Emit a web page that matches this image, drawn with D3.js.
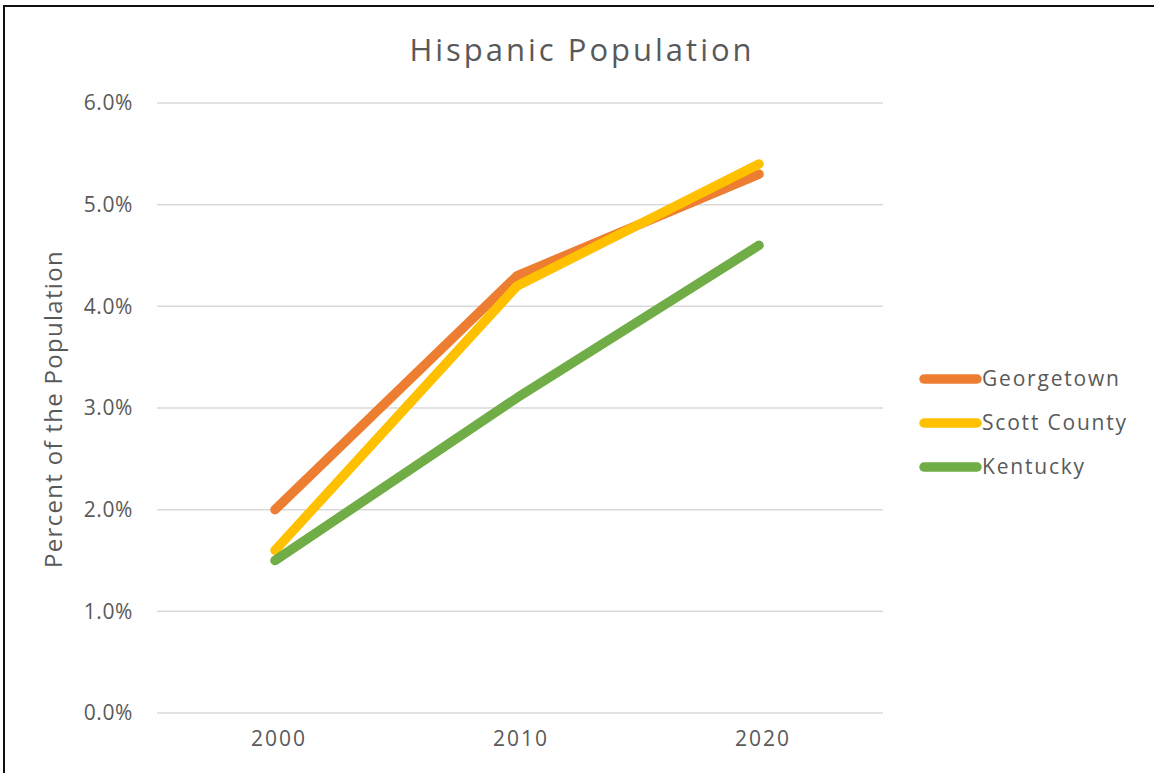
<!DOCTYPE html>
<html><head><meta charset="utf-8">
<script src="https://cdn.jsdelivr.net/npm/d3@7"></script>
<style>body{margin:0;background:#fff}svg{display:block}</style>
</head><body>
<svg id="c" width="1154" height="773"></svg>
<script>
const categories = ["2000", "2010", "2020"];
const seriesNames = ["Georgetown", "Scott County", "Kentucky"];
const georgetown = [0.020, 0.043, 0.053];
const scottCounty = [0.016, 0.042, 0.054];
const kentucky = [0.015, 0.031, 0.046];
const yTicks = [0, 0.01, 0.02, 0.03, 0.04, 0.05, 0.06];
const colors = ["#ED7D31", "#FFC000", "#70AD47"];
const seriesValues = [georgetown, scottCounty, kentucky];

const svg = d3.select("#c");
const font = "'Open Sans', sans-serif";
const textColor = "#595959";

svg.append("path").attr("d","M4,773 L4,6 L1154,6").attr("fill","none").attr("stroke","#111").attr("stroke-width",2);

const x = d3.scaleBand().domain(categories).range([157, 883]);
const y = d3.scaleLinear().domain([0, 0.06]).range([713, 103]);

const g = svg.append("g");
g.selectAll("line.grid").data(yTicks).join("line")
  .attr("x1",157).attr("x2",883)
  .attr("y1",d=>y(d)).attr("y2",d=>y(d))
  .attr("stroke","#d9d9d9").attr("stroke-width",1.5);

const yAxis = svg.append("g").attr("transform","translate(157,0)")
  .call(d3.axisLeft(y).tickValues(yTicks).tickFormat(d3.format(".1%")).tickSize(0).tickPadding(24));
yAxis.select(".domain").remove();
yAxis.selectAll("text").attr("font-family",font).attr("font-size",21).attr("fill",textColor)
  .attr("letter-spacing",0.6);

const xAxis = svg.append("g").attr("transform","translate(0,713)")
  .call(d3.axisBottom(x).tickSize(0).tickPadding(18));
xAxis.select(".domain").remove();
xAxis.selectAll("text").attr("font-family",font).attr("font-size",21).attr("fill",textColor)
  .attr("letter-spacing",2).attr("dx",1);

const line = d3.line().x((d,i)=>x(categories[i]) + x.bandwidth()/2 - 3).y(d=>y(d));
seriesValues.forEach((vals,k)=>{
  svg.append("path").datum(vals).attr("d",line)
    .attr("fill","none").attr("stroke",colors[k]).attr("stroke-width",9.5)
    .attr("stroke-linecap","round").attr("stroke-linejoin","round");
});

svg.append("text").attr("x",582).attr("y",61).attr("text-anchor","middle")
  .attr("font-family",font).attr("font-size",31).attr("letter-spacing",3).attr("fill",textColor).text("Hispanic Population");

svg.append("text").attr("transform","translate(62,409) rotate(-90)").attr("text-anchor","middle")
  .attr("font-family",font).attr("font-size",24).attr("letter-spacing",1.3).attr("fill",textColor).text("Percent of the Population");

const leg = svg.append("g");
seriesNames.forEach((n,k)=>{
  const ly = 379 + k*44;
  leg.append("line").attr("x1",924).attr("x2",977).attr("y1",ly).attr("y2",ly)
    .attr("stroke",colors[k]).attr("stroke-width",9.5).attr("stroke-linecap","round");
  leg.append("text").attr("x",982).attr("y",ly+7).attr("font-family",font).attr("font-size",21)
    .attr("letter-spacing",1.8).attr("fill",textColor).text(n);
});
</script>
</body></html>
